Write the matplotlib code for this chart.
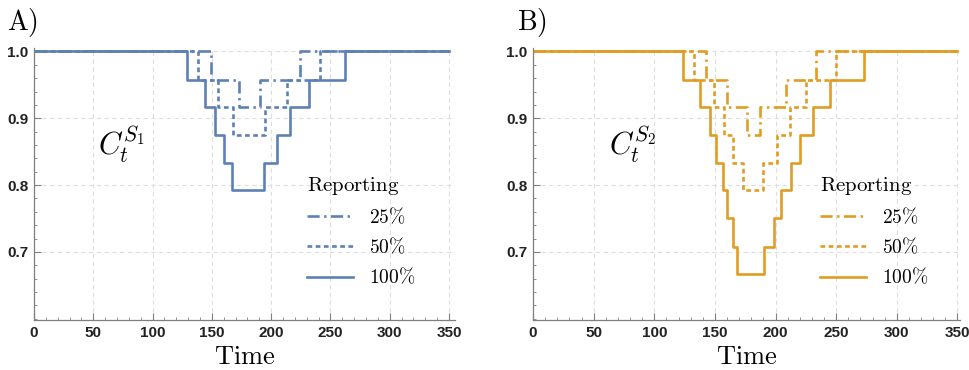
import matplotlib
matplotlib.use("Agg")
import matplotlib.pyplot as plt
from matplotlib.ticker import MultipleLocator

plt.rcParams['mathtext.fontset'] = 'cm'

# ---- data (step functions: change times and levels) ----
a100_t = [0, 129, 144, 153, 160, 167, 194, 205, 216, 232, 262, 350]
a100_v = [1.0, 0.958, 0.917, 0.875, 0.833, 0.792, 0.833, 0.875, 0.917, 0.958, 1.0, 1.0]
a50_t = [0, 138, 155.5, 168, 194.5, 213, 241, 350]
a50_v = [1.0, 0.958, 0.917, 0.875, 0.917, 0.958, 1.0, 1.0]
a25_t = [0, 149, 173, 190.5, 224, 350]
a25_v = [1.0, 0.958, 0.917, 0.958, 1.0, 1.0]

b100_t = [0, 124, 138, 145.7, 151, 156.6, 160.4, 164.8, 168.6, 190.7, 198.9,
          204.9, 212.6, 220, 230.9, 244.6, 273.3, 350]
b100_v = [1.0, 0.958, 0.917, 0.875, 0.833, 0.792, 0.75, 0.708, 0.667, 0.708, 0.75,
          0.792, 0.833, 0.875, 0.917, 0.958, 1.0, 1.0]
b50_t = [0, 133, 149, 157.7, 164.8, 173.5, 190, 201, 212, 225.4, 250, 350]
b50_v = [1.0, 0.958, 0.917, 0.875, 0.833, 0.792, 0.833, 0.875, 0.917, 0.958, 1.0, 1.0]
b25_t = [0, 143, 160.4, 176.3, 187.2, 209, 233.6, 350]
b25_v = [1.0, 0.958, 0.917, 0.875, 0.917, 0.958, 1.0, 1.0]

labels = [r'$25\%$', r'$50\%$', r'$100\%$']
x_ticks = [0, 50, 100, 150, 200, 250, 300, 350]
y_ticks = [0.7, 0.8, 0.9, 1.0]

blue = '#5E81B5'
orange = '#E19C24'

DASHDOT = (0, (4.6, 1.7, 0.9, 1.7))
DASHED = (0, (1.8, 1.3))

fig = plt.figure(figsize=(9.7, 3.7), dpi=100)
axA = fig.add_axes([0.035, 0.135, 0.434, 0.735])
axB = fig.add_axes([0.5495, 0.135, 0.440, 0.735])

def style(ax, xmax):
    ax.set_xlim(0, xmax)
    ax.set_ylim(0.598, 1.005)
    for s in ['top', 'right']:
        ax.spines[s].set_visible(False)
    for s in ['left', 'bottom']:
        ax.spines[s].set_color('#7f7f7f')
        ax.spines[s].set_linewidth(0.9)
    ax.set_xticks(x_ticks)
    ax.set_yticks(y_ticks)
    ax.set_yticklabels(['0.7', '0.8', '0.9', '1.0'])
    ax.xaxis.set_minor_locator(MultipleLocator(10))
    ax.yaxis.set_minor_locator(MultipleLocator(0.02))
    ax.tick_params(which='major', direction='in', length=5, width=0.8, color='#7f7f7f',
                   labelsize=11, pad=4, labelcolor='#222222')
    ax.tick_params(which='minor', direction='in', length=2.5, width=0.6, color='#7f7f7f')
    for lab in ax.get_xticklabels() + ax.get_yticklabels():
        lab.set_fontfamily('Liberation Sans')
        lab.set_fontweight('bold')
    ax.grid(True, which='major', color='#dedede', linestyle=(0, (4, 3)), linewidth=0.8)
    ax.set_axisbelow(True)
    ax.set_xlabel(r'$\mathrm{Time}$', fontsize=19, labelpad=3)

def draw(ax, t25, v25, t50, v50, t100, v100, color, letter, clabel, cx, legx, fx):
    h25, = ax.step(t25, v25, where='post', color=color, lw=1.9, linestyle=DASHDOT)
    h50, = ax.step(t50, v50, where='post', color=color, lw=1.9, linestyle=DASHED)
    h100, = ax.step(t100, v100, where='post', color=color, lw=1.9)
    ax.legend([h25, h50, h100], labels, title=r'$\mathrm{Reporting}$',
              frameon=False, loc='upper left', bbox_to_anchor=(legx, 0.535),
              fontsize=14, title_fontsize=15, handlelength=2.4,
              handletextpad=0.8, labelspacing=0.5, alignment='left',
              borderaxespad=0, borderpad=0)
    ax.text(cx, 0.845, clabel, fontsize=22, ha='left', va='baseline')
    fig.text(fx, 0.918, r'$\mathrm{' + letter + ')}$', fontsize=20,
             ha='left', va='baseline')

style(axA, 355)
style(axB, 352)
draw(axA, a25_t, a25_v, a50_t, a50_v, a100_t, a100_v, blue, 'A', r'$C_t^{S_1}$', 54, 0.648, 0.007)
draw(axB, b25_t, b25_v, b50_t, b50_v, b100_t, b100_v, orange, 'B', r'$C_t^{S_2}$', 63, 0.672, 0.533)

fig.savefig('out.png', dpi=100)
